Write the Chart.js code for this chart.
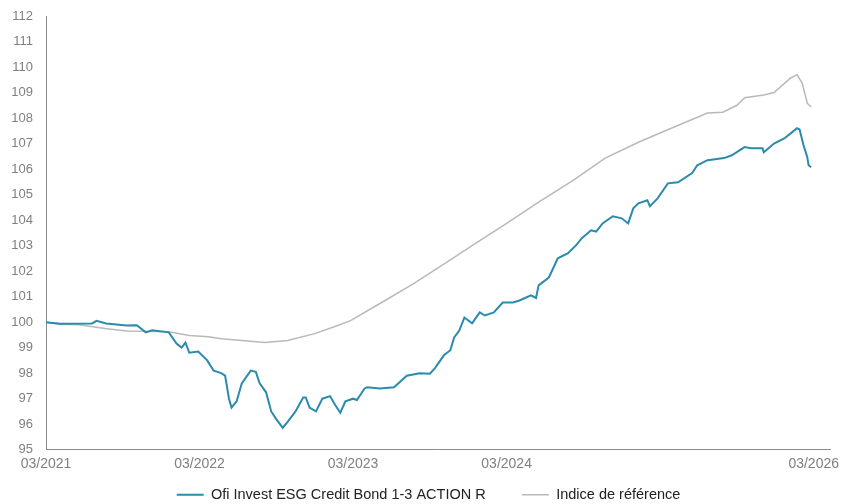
<!DOCTYPE html>
<html>
<head>
<meta charset="utf-8">
<script src="https://cdn.jsdelivr.net/npm/chart.js@4"></script>
<style>
  body { margin: 0; background: #fff; }
  #wrap { width: 845px; height: 504px; }
</style>
</head>
<body>
<div id="wrap"><canvas id="perf-chart"></canvas></div>
<script>
// months counted from 03/2021
const tickMonths = [0, 12, 24, 36, 48, 60];
const tickLabels = ['03/2021', '03/2022', '03/2023', '03/2024', '', '03/2026'];

const fundMonths = [0, 1.1, 3.6, 3.95, 4.7, 6.3, 7.1, 7.8, 8.3, 9.6, 10.2, 10.6, 10.9, 11.2, 11.9, 12.6,
  13.1, 13.7, 14.0, 14.3, 14.5, 14.9, 15.3, 16.0, 16.4, 16.7, 17.2, 17.6, 18.0, 18.5, 18.9, 19.5,
  20.1, 20.3, 20.6, 21.1, 21.6, 22.2, 22.6, 23.0, 23.4, 24.0, 24.3, 24.9, 25.1, 26.1, 27.2, 28.2,
  29.2, 30.0, 30.4, 31.1, 31.6, 31.9, 32.3, 32.7, 33.3, 33.9, 34.3, 35.0, 35.7, 36.5, 37.0, 37.9,
  38.3, 38.5, 39.3, 40.0, 40.8, 41.4, 41.9, 42.6, 43.0, 43.5, 44.3, 45.0, 45.5, 45.9, 46.3, 47.0,
  47.2, 47.8, 48.6, 49.4, 50.5, 50.9, 51.7, 53.0, 53.6, 54.6, 55.1, 56.0, 56.1, 56.9, 57.7, 58.2,
  58.7, 58.9, 59.2, 59.5, 59.6, 59.8];
const fundValues = [100.0, 99.94, 99.95, 100.05, 99.95, 99.87, 99.88, 99.6, 99.68, 99.6, 99.16, 99.0, 99.2, 98.8, 98.85, 98.5,
  98.1, 98.0, 97.9, 97.0, 96.65, 96.9, 97.6, 98.1, 98.05, 97.6, 97.25, 96.5, 96.2, 95.86, 96.1, 96.5,
  97.05, 97.05, 96.65, 96.5, 97.0, 97.1, 96.75, 96.45, 96.9, 97.0, 96.95, 97.4, 97.45, 97.4, 97.45, 97.9,
  98.0, 97.98, 98.2, 98.7, 98.9, 99.4, 99.67, 100.18, 99.95, 100.38, 100.26, 100.38, 100.77, 100.77, 100.85, 101.05,
  100.95, 101.44, 101.75, 102.5, 102.7, 103.0, 103.3, 103.6, 103.55, 103.87, 104.15, 104.07, 103.87, 104.46, 104.66, 104.78,
  104.54, 104.85, 105.44, 105.48, 105.84, 106.15, 106.35, 106.43, 106.54, 106.86, 106.82, 106.82, 106.66, 107.0, 107.2, 107.4,
  107.6, 107.55, 106.94, 106.46, 106.15, 106.07];

const refMonths = [0, 1.1, 2.6, 4.6, 6.3, 9.6, 11.2, 12.7, 13.7, 17.1, 18.9, 21.0, 22.8, 23.8, 26.1, 28.7,
  31.3, 33.9, 36.0, 38.5, 41.2, 43.7, 46.3, 48.4, 51.7, 52.9, 54.0, 54.6, 56.1, 56.9, 58.2, 58.7,
  59.1, 59.5, 59.8];
const refValues = [100.0, 99.92, 99.9, 99.75, 99.65, 99.62, 99.48, 99.43, 99.35, 99.2, 99.28, 99.55, 99.87, 100.06, 100.73, 101.5,
  102.34, 103.2, 103.87, 104.7, 105.56, 106.43, 107.05, 107.5, 108.2, 108.23, 108.5, 108.8, 108.9, 109.0, 109.57, 109.7,
  109.37, 108.58, 108.43];

const fundLabel = 'Ofi Invest ESG Credit Bond 1-3 ACTION R';
const refLabel = 'Indice de référence';

const toPoints = (xs, ys) => xs.map((m, i) => ({ x: m, y: ys[i] }));

const perfChart = document.getElementById('perf-chart');

new Chart(perfChart, {
  type: 'line',
  data: {
    datasets: [{
      label: fundLabel,
      data: toPoints(fundMonths, fundValues),
      borderColor: '#2b8bab',
      backgroundColor: '#2b8bab',
      borderWidth: 2,
      pointRadius: 0,
      order: 1
    },
    {
      label: refLabel,
      data: toPoints(refMonths, refValues),
      borderColor: '#b9b9b9',
      backgroundColor: '#b9b9b9',
      borderWidth: 1.5,
      pointRadius: 0,
      order: 2
    }]
  },
  options: {
    responsive: true,
    maintainAspectRatio: false,
    animation: false,
    layout: {
      padding: { left: 12, right: 0, top: 16, bottom: -8 }
    },
    plugins: {
      tooltip: { enabled: false },
      legend: {
        position: 'bottom',
        labels: {
          usePointStyle: true,
          pointStyle: 'line',
          pointStyleWidth: 27,
          color: '#222',
          padding: 4,
          font: { family: 'Liberation Sans, Arial', size: 14.5 },
          // wider gap between the two entries
          generateLabels: (chart) => {
            const items = Chart.defaults.plugins.legend.labels.generateLabels(chart);
            items[0].text = items[0].text + '        ';
            return items;
          }
        }
      }
    },
    scales: {
      x: {
        type: 'linear',
        min: 0,
        max: 61.3,
        grid: { display: false, drawTicks: false },
        border: { color: '#8a8a8a', width: 1 },
        afterBuildTicks: (scale) => {
          scale.ticks = tickMonths.map(v => ({ value: v }));
        },
        afterFit: (scale) => {
          scale.height += 5;
        },
        ticks: {
          color: '#808080',
          padding: 6,
          maxRotation: 0,
          autoSkip: false,
          font: { family: 'Liberation Sans, Arial', size: 14 },
          callback: (value) => tickLabels[tickMonths.indexOf(value)]
        }
      },
      y: {
        min: 95,
        max: 112,
        grid: { display: false, drawTicks: false },
        border: { color: '#8a8a8a', width: 1 },
        afterFit: (scale) => {
          scale.width = 34;
          scale.paddingTop = 0;
        },
        ticks: {
          stepSize: 1,
          color: '#808080',
          padding: 13,
          font: { family: 'Liberation Sans, Arial', size: 13 }
        }
      }
    }
  }
});
</script>
</body>
</html>
